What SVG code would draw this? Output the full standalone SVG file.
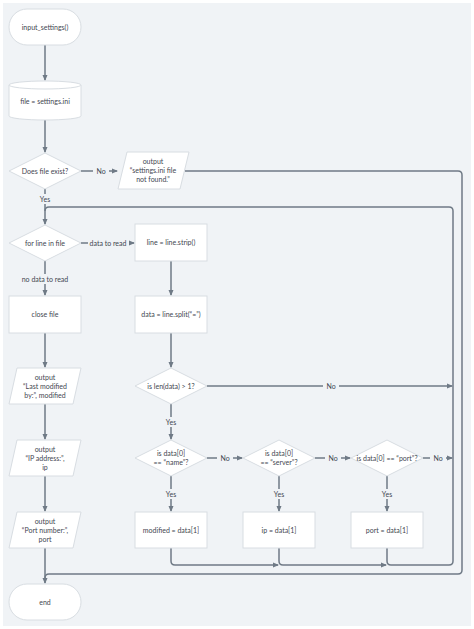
<svg xmlns="http://www.w3.org/2000/svg" width="474" height="629" viewBox="0 0 474 629">
<defs>
<marker id="ah" viewBox="0 0 6 6" refX="5" refY="3" markerWidth="6" markerHeight="6" markerUnits="userSpaceOnUse" orient="auto">
<path d="M0,0.5 L6,3 L0,5.5 z" fill="#6f7a86"/>
</marker>
<style>
.n{fill:#ffffff;stroke:#d8dde2;stroke-width:1}
.t{font-family:Lato,"Noto Sans",sans-serif;font-size:7px;fill:#3f4650;text-anchor:middle}
.c{fill:none;stroke:#6f7a86;stroke-width:1.5}
.a{marker-end:url(#ah)}
.lb{fill:#f0f3f6}
</style>
</defs>
<rect x="0" y="0" width="474" height="629" fill="#ffffff"/>
<rect x="3" y="3" width="468" height="623" fill="#f0f3f6"/>

<g id="connectors">
<path class="c a" d="M45,45 V80"/>
<path class="c a" d="M45,120 V152"/>
<path class="c a" d="M81,171 H117"/>
<path class="c" d="M185,171 H458 Q462,171 462,175 V570 Q462,574 458,574 H49 Q45,574 45,578"/>
<path class="c a" d="M45,189 V224"/>
<path class="c a" d="M81,243 H134"/>
<path class="c a" d="M171,261 V295"/>
<path class="c a" d="M171,333 V367"/>
<path class="c a" d="M207,386 H452"/>
<path class="c a" d="M171,404 V439"/>
<path class="c a" d="M207,458 H242"/>
<path class="c a" d="M315,458 H350"/>
<path class="c a" d="M423,458 H452"/>
<path class="c a" d="M171,476 V511"/>
<path class="c a" d="M279,476 V511"/>
<path class="c a" d="M387,476 V511"/>
<path class="c a" d="M171,548 V561 Q171,565 175,565 H278"/>
<path class="c a" d="M279,548 V561 Q279,565 283,565 H386"/>
<path class="c" d="M387,548 V561 Q387,565 391,565 H449 Q453,565 453,561 V211 Q453,207 449,207 H49 Q45,207 45,211"/>
<path class="c a" d="M45,261 V295"/>
<path class="c a" d="M45,333 V367"/>
<path class="c a" d="M45,404 V439"/>
<path class="c a" d="M45,476 V511"/>
<path class="c a" d="M45,548 V583"/>
<g id="labels">
<rect class="lb" x="93" y="166" width="16" height="10"/><text class="t" x="101" y="173.5">No</text>
<rect class="lb" x="37" y="194" width="16" height="10"/><text class="t" x="45" y="201.5">Yes</text>
<rect class="lb" x="88" y="238" width="41" height="10"/><text class="t" x="108" y="245.5">data to read</text>
<rect class="lb" x="20" y="274" width="50" height="10"/><text class="t" x="45" y="281.5">no data to read</text>
<rect class="lb" x="323" y="381" width="16" height="10"/><text class="t" x="331" y="388.5">No</text>
<rect class="lb" x="163" y="417" width="16" height="10"/><text class="t" x="171" y="424.5">Yes</text>
<rect class="lb" x="217" y="453" width="16" height="10"/><text class="t" x="225" y="460.5">No</text>
<rect class="lb" x="325" y="453" width="16" height="10"/><text class="t" x="333" y="460.5">No</text>
<rect class="lb" x="430" y="453" width="16" height="10"/><text class="t" x="438" y="460.5">No</text>
<rect class="lb" x="163" y="489" width="16" height="10"/><text class="t" x="171" y="496.5">Yes</text>
<rect class="lb" x="271" y="489" width="16" height="10"/><text class="t" x="279" y="496.5">Yes</text>
<rect class="lb" x="379" y="489" width="16" height="10"/><text class="t" x="387" y="496.5">Yes</text>
</g>
</g>

<g id="start"><rect class="n" x="9" y="9" width="72" height="36" rx="18"/><text class="t" x="45" y="29.5">input_settings()</text></g>
<g id="file"><path class="n" d="M9,85 A36,4 0 0,1 81,85 V116 A36,4 0 0,1 9,116 Z"/><path class="n" d="M9,85 A36,4 0 0,0 81,85" fill="none"/><text class="t" x="45" y="103.5">file = settings.ini</text></g>
<g id="exists"><polygon class="n" points="9,171 45,153 81,171 45,189"/><text class="t" x="45" y="173.5">Does file exist?</text></g>
<g id="notfound"><polygon class="n" points="127,152 189,152 180,189 118,189"/><text class="t" x="153" y="164">output</text><text class="t" x="153" y="173">“settings.ini file</text><text class="t" x="153" y="182">not found.”</text></g>
<g id="forline"><polygon class="n" points="9,243 45,225 81,243 45,261"/><text class="t" x="45" y="245.5">for line in file</text></g>
<g id="strip"><rect class="n" x="135" y="224" width="72" height="37"/><text class="t" x="171" y="245">line = line.strip()</text></g>
<g id="split"><rect class="n" x="135" y="296" width="72" height="37"/><text class="t" x="171" y="317">data = line.split(“=”)</text></g>
<g id="len"><polygon class="n" points="135,386 171,368 207,386 171,404"/><text class="t" x="171" y="388.5">is len(data) &gt; 1?</text></g>
<g id="name"><polygon class="n" points="135,458 171,440 207,458 171,476"/><text class="t" x="171" y="455.5">is data[0]</text><text class="t" x="171" y="464.5">== “name”?</text></g>
<g id="server"><polygon class="n" points="243,458 279,440 315,458 279,476"/><text class="t" x="279" y="455.5">is data[0]</text><text class="t" x="279" y="464.5">== “server”?</text></g>
<g id="port"><polygon class="n" points="351,458 387,440 423,458 387,476"/><text class="t" x="387" y="460.5">is data[0] == “port”?</text></g>
<g id="modified"><rect class="n" x="135" y="512" width="72" height="36"/><text class="t" x="171" y="532.5">modified = data[1]</text></g>
<g id="ip"><rect class="n" x="243" y="512" width="72" height="36"/><text class="t" x="279" y="532.5">ip = data[1]</text></g>
<g id="portset"><rect class="n" x="351" y="512" width="72" height="36"/><text class="t" x="387" y="532.5">port = data[1]</text></g>
<g id="close"><rect class="n" x="9" y="296" width="72" height="37"/><text class="t" x="45" y="317">close file</text></g>
<g id="outmod"><polygon class="n" points="17,368 81,368 73,404 9,404"/><text class="t" x="45" y="380">output</text><text class="t" x="45" y="389">“Last modified</text><text class="t" x="45" y="398">by:”, modified</text></g>
<g id="outip"><polygon class="n" points="17,440 81,440 73,476 9,476"/><text class="t" x="45" y="452">output</text><text class="t" x="45" y="461">“IP address:”,</text><text class="t" x="45" y="470">ip</text></g>
<g id="outport"><polygon class="n" points="17,512 81,512 73,548 9,548"/><text class="t" x="45" y="524">output</text><text class="t" x="45" y="533">“Port number:”,</text><text class="t" x="45" y="542">port</text></g>
<g id="end"><rect class="n" x="9" y="584" width="72" height="36" rx="18"/><text class="t" x="45" y="604.5">end</text></g>
</svg>
